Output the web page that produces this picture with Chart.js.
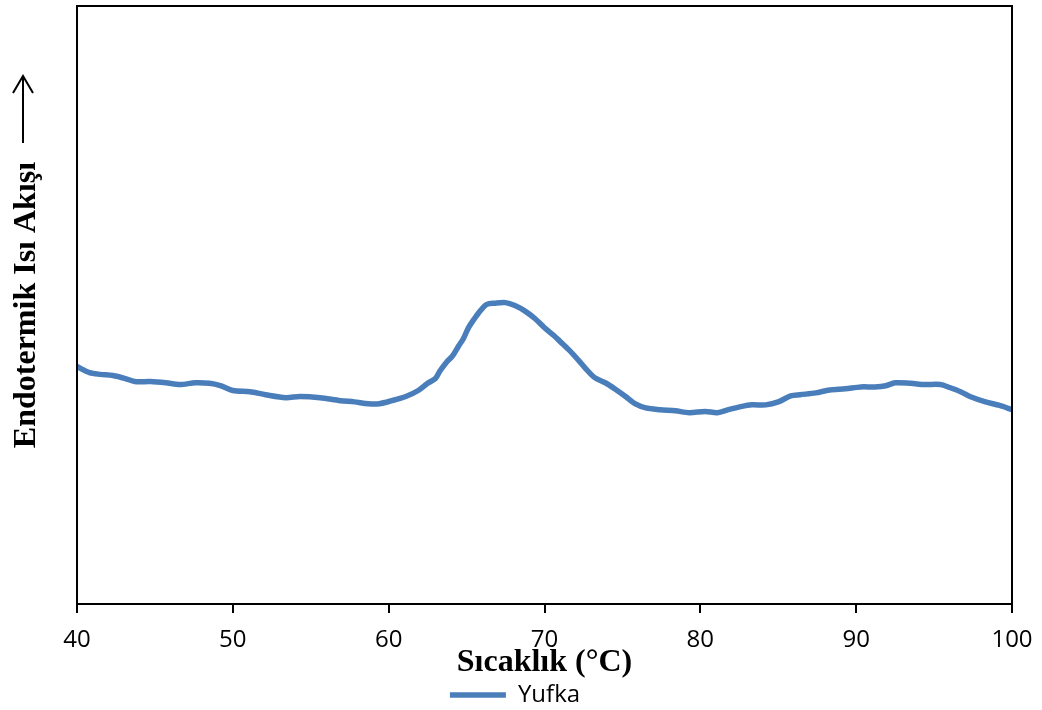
<!DOCTYPE html>
<html lang="tr">
<head>
  <meta charset="UTF-8">
  <title>Yufka DSC</title>
  <script src="https://cdn.jsdelivr.net/npm/chart.js"></script>
  <style>
    html, body { margin: 0; padding: 0; background: #fff; }
    #wrap { width: 1042px; height: 710px; }
  </style>
</head>
<body>
  <div id="wrap"><canvas id="grafik"></canvas></div>

  <script>
    // Sıcaklık (°C) ve endotermik ısı akışı (keyfi birim)
    const sicaklik = [40.0, 40.8, 41.5, 42.3, 43.1, 43.7, 44.7, 45.7, 46.6, 47.6, 48.5, 49.2, 50.0, 51.1,
      52.1, 53.4, 54.3, 55.6, 56.9, 57.8, 58.7, 59.4, 60.2, 61.1, 61.9, 62.5, 63.0, 63.3, 63.7, 64.1,
      64.5, 64.8, 65.1, 65.5, 65.9, 66.3, 66.8, 67.5, 68.1, 68.8, 69.4, 70.0, 70.6, 71.0, 71.6, 72.2,
      72.6, 73.2, 73.9, 74.5, 75.2, 75.8, 76.5, 77.4, 78.4, 79.3, 80.3, 81.1, 81.8, 82.6, 83.3, 84.2,
      85.0, 85.8, 86.4, 87.4, 88.3, 89.3, 90.3, 91.2, 91.9, 92.5, 93.5, 94.4, 95.4, 96.0, 96.7, 97.3,
      98.3, 99.2, 100.0];
    const isiAkisi = [39.7, 38.7, 38.4, 38.2, 37.7, 37.2, 37.2, 37.0, 36.7, 37.0, 36.9, 36.5, 35.7, 35.5,
      35.0, 34.5, 34.7, 34.5, 34.0, 33.8, 33.5, 33.5, 34.0, 34.7, 35.7, 36.9, 37.7, 39.0, 40.4, 41.5,
      43.2, 44.4, 46.1, 47.7, 49.1, 50.1, 50.3, 50.4, 49.9, 48.9, 47.7, 46.2, 44.9, 43.9, 42.4, 40.7,
      39.5, 37.9, 37.0, 36.0, 34.7, 33.5, 32.8, 32.5, 32.3, 32.0, 32.2, 32.0, 32.5, 33.0, 33.3, 33.3,
      33.8, 34.8, 35.0, 35.3, 35.8, 36.0, 36.3, 36.3, 36.5, 37.0, 36.9, 36.7, 36.7, 36.2, 35.5, 34.7,
      33.8, 33.2, 32.5];
    const xTicks = [40, 50, 60, 70, 80, 90, 100];

    const puntos = sicaklik.map((t, i) => ({ x: t, y: isiAkisi[i] }));

    // Çerçeve ve dikey eksen başlığı (ok ile birlikte)
    const cerceve = {
      id: 'cerceve',
      afterDraw(chart) {
        const ctx = chart.ctx;
        const a = chart.chartArea;
        ctx.save();
        ctx.strokeStyle = '#000';
        ctx.lineWidth = 2;
        ctx.strokeRect(a.left, a.top, a.right - a.left, a.bottom - a.top);

        // dikey başlık
        ctx.translate(35, 305);
        ctx.rotate(-Math.PI / 2);
        ctx.fillStyle = '#000';
        ctx.font = 'bold 32px "Liberation Serif"';
        ctx.textAlign = 'center';
        ctx.textBaseline = 'alphabetic';
        ctx.fillText('Endotermik Isı Akışı', 0, 0);
        ctx.restore();

        // ok
        ctx.save();
        ctx.strokeStyle = '#000';
        ctx.lineWidth = 2;
        ctx.beginPath();
        ctx.moveTo(23, 143);
        ctx.lineTo(23, 76);
        ctx.moveTo(13, 93);
        ctx.lineTo(23, 76);
        ctx.lineTo(33, 93);
        ctx.stroke();
        ctx.restore();
      }
    };

    const ctx = document.getElementById('grafik').getContext('2d');
    new Chart(ctx, {
      type: 'line',
      data: {
        datasets: [{
          label: 'Yufka',
          data: puntos,
          borderColor: '#4a7ebb',
          backgroundColor: '#4a7ebb',
          borderWidth: 5.5,
          pointRadius: 0,
          tension: 0.3,
          borderCapStyle: 'round'
        }]
      },
      options: {
        responsive: true,
        maintainAspectRatio: false,
        animation: false,
        layout: { padding: { left: 0, right: 12, top: 6, bottom: 0 } },
        plugins: {
          tooltip: { enabled: false },
          legend: {
            position: 'bottom',
            maxHeight: 30,
            labels: {
              usePointStyle: true,
              pointStyle: 'line',
              pointStyleWidth: 56,
              padding: 3,
              color: '#000',
              font: { family: '"Open Sans"', size: 24 }
            }
          }
        },
        scales: {
          x: {
            type: 'linear',
            min: 40,
            max: 100,
            afterBuildTicks: (scale) => { scale.ticks = xTicks.map(v => ({ value: v })); },
            afterFit: (scale) => {
              scale.height = 76;
              scale.paddingRight = 30;
            },
            grid: { drawOnChartArea: false, drawTicks: true, tickLength: 9, color: '#000', lineWidth: 2 },
            border: { display: true, color: '#000', width: 2 },
            ticks: { color: '#000', padding: 15, font: { family: '"Open Sans"', size: 24, lineHeight: 1 } },
            title: {
              display: true,
              text: 'Sıcaklık (°C)',
              color: '#000',
              padding: { top: 0, bottom: 1 },
              font: { family: '"Liberation Serif"', size: 32, weight: 'bold', lineHeight: 1 }
            }
          },
          y: {
            min: 0,
            max: 100,
            afterFit: (scale) => { scale.width = 77; },
            grid: { display: false },
            border: { display: false },
            ticks: { display: false }
          }
        }
      },
      plugins: [cerceve]
    });
  </script>
</body>
</html>
